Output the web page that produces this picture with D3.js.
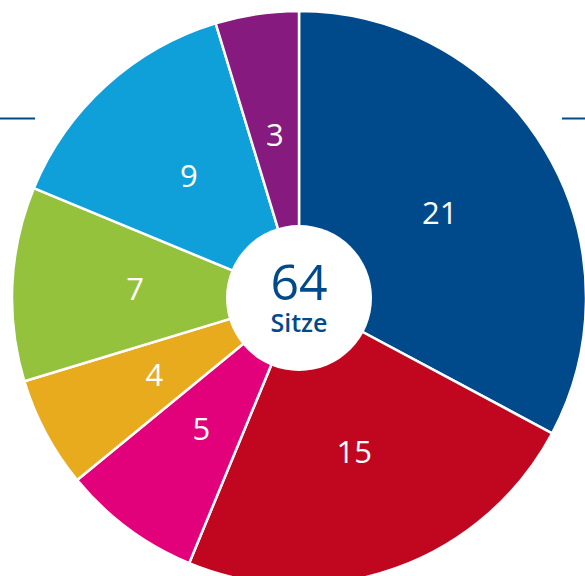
<!DOCTYPE html>
<html>
<head>
<meta charset="utf-8">
<script src="https://cdn.jsdelivr.net/npm/d3@7"></script>
<style>
  body { margin: 0; background: #fff; }
  svg { display: block; }
</style>
</head>
<body>
<script>
var seats = [21, 15, 5, 4, 7, 9, 3];
var colors = ["#004a8b", "#c1061f", "#e3007b", "#e8ab1e", "#95c23d", "#0fa0da", "#861a7e"];
var total = 64;
var centerLabel = "Sitze";

var width = 585, height = 576;
var cx = 299, cy = 298, radius = 287, inner = 73;

var svg = d3.select("body").append("svg")
    .attr("width", width)
    .attr("height", height);

// side rules
svg.append("line").attr("x1", 0).attr("x2", 35).attr("y1", 118.5).attr("y2", 118.5)
    .attr("stroke", "#004a8b").attr("stroke-width", 2);
svg.append("line").attr("x1", 562).attr("x2", 585).attr("y1", 118.5).attr("y2", 118.5)
    .attr("stroke", "#004a8b").attr("stroke-width", 2);

var g = svg.append("g").attr("transform", "translate(" + cx + "," + cy + ")");

var pie = d3.pie().sort(null).value(function(d){ return d; });
var arcs = pie(seats);

var arc = d3.arc().innerRadius(0).outerRadius(radius);
var labelArc = d3.arc().innerRadius(164).outerRadius(164);

g.selectAll("path.slice").data(arcs).enter().append("path")
    .attr("class", "slice")
    .attr("d", arc)
    .attr("fill", function(d, i){ return colors[i]; })
    .attr("stroke", "#fff")
    .attr("stroke-width", 2.5)
    .attr("stroke-linejoin", "round");

g.selectAll("text.lbl").data(arcs).enter().append("text")
    .attr("class", "lbl")
    .attr("transform", function(d){ return "translate(" + labelArc.centroid(d) + ")"; })
    .attr("text-anchor", "middle")
    .attr("dy", "0.34em")
    .attr("fill", "#fff")
    .style("font-family", "'Open Sans', 'Noto Sans', sans-serif")
    .style("font-weight", 500)
    .style("font-size", "31px")
    .text(function(d){ return d.data; });

g.append("circle").attr("r", inner).attr("fill", "#fff");

g.append("text")
    .attr("x", 0).attr("y", 2)
    .attr("text-anchor", "middle")
    .attr("fill", "#004a8b")
    .style("font-family", "'Open Sans', 'Noto Sans', sans-serif")
    .style("font-weight", 500)
    .style("font-size", "50px")
    .text(total);

g.append("text")
    .attr("x", 0).attr("y", 34)
    .attr("text-anchor", "middle")
    .attr("fill", "#004a8b")
    .style("font-family", "'Open Sans', 'Noto Sans', sans-serif")
    .style("font-weight", 600)
    .style("font-size", "25px")
    .text(centerLabel);
</script>
</body>
</html>
